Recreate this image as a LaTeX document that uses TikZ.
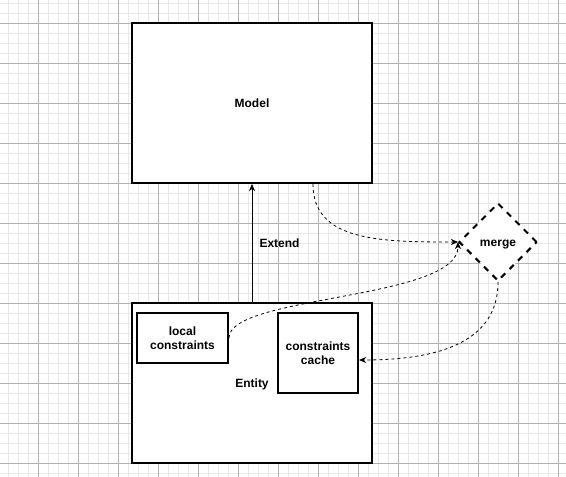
\documentclass[tikz,border=0pt]{standalone}
\usepackage{fontspec}
\setmainfont{Liberation Sans}
\usetikzlibrary{shapes.geometric,arrows.meta}
\begin{document}
\begin{tikzpicture}[x=1pt,y=-1pt,
  font=\fontsize{12}{14}\selectfont\bfseries,
  minorgrid/.style={draw=black!9,line width=1pt},
  majorgrid/.style={draw=black!30,line width=1pt},
  oneline/.style={text height=10.5pt,text depth=2pt},
  box/.style={draw=black,fill=white,line width=2pt,inner sep=0pt,align=center},
  mergebox/.style={diamond,draw=black,fill=white,line width=2pt,dash pattern=on 6pt off 6pt,inner sep=0pt,minimum width=78pt,minimum height=78pt,oneline},
  link/.style={draw=black,line width=0.8pt,dash pattern=on 3pt off 3pt,-{Stealth[length=7pt,width=6pt,inset=2pt]}},
  extendarrow/.style={draw=black,line width=1pt,-{Stealth[length=7pt,width=6pt,inset=2pt]}}]
\useasboundingbox (0,0) rectangle (566,477);
\fill[white] (0,0) rectangle (566,477);
\foreach \x in {8,18,...,558} \draw[minorgrid] (\x,0) -- (\x,477);
\foreach \y in {3,13,...,473} \draw[minorgrid] (0,\y) -- (566,\y);
\foreach \x in {38,78,...,558} \draw[majorgrid] (\x,0) -- (\x,477);
\foreach \y in {23,63,...,463} \draw[majorgrid] (0,\y) -- (566,\y);

\node[box,oneline,minimum width=240pt,minimum height=160pt] (model) at (252,103) {Model};
\node[box,oneline,minimum width=240pt,minimum height=160pt] (entity) at (252,383) {Entity};
\node[box,minimum width=91pt,minimum height=50pt] (lc) at (182.5,338) {local\\constraints};
\node[box,minimum width=80pt,minimum height=80pt] (cache) at (318,353) {constraints\\cache};
\node[mergebox] (merge) at (498,242) {merge};

\draw[extendarrow] (entity.north) -- (model.south);
\node[oneline,anchor=west] (extendlabel) at (256,243) {Extend};

\draw[link] ([xshift=61pt]model.south) .. controls +(0,57) and +(-79,0) .. (merge.west);
\draw[link] (lc.east) .. controls +(0,-43) and +(0,58) .. (merge.west);
\draw[link] (merge.south) .. controls +(0,59) and +(82,0) .. ([yshift=-7pt]cache.east);
\end{tikzpicture}
\end{document}
